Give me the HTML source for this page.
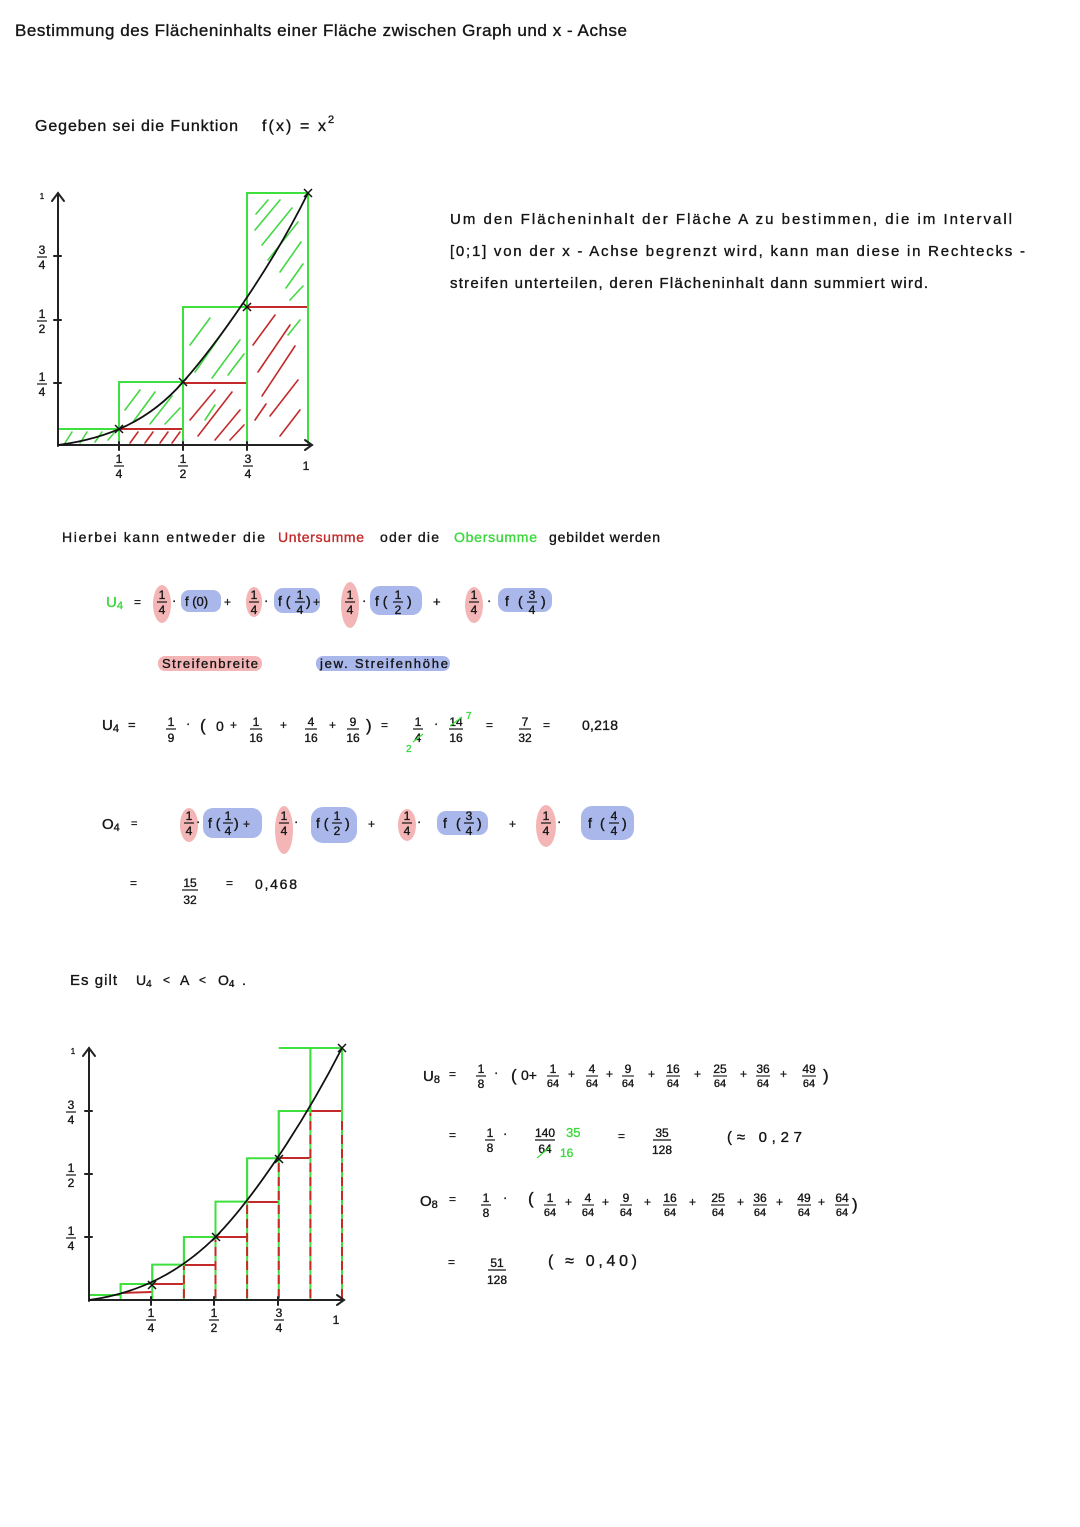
<!DOCTYPE html>
<html>
<head>
<meta charset="utf-8">
<style>
  html,body{margin:0;padding:0;background:#fff;}
  svg{display:block;}
  text{font-family:"Liberation Sans",sans-serif;fill:#151515;stroke:#151515;stroke-width:0.35;}
  .n{font-size:12px;text-anchor:middle;}
  .s{font-size:11px;text-anchor:middle;}
  .g{fill:#3ad83a;stroke:#3ad83a;}
  .r{fill:#c42a2a;stroke:#c42a2a;}
</style>
</head>
<body>
<svg width="1080" height="1527" viewBox="0 0 1080 1527" xmlns="http://www.w3.org/2000/svg">
<defs>
  <g id="fr14"><text class="n" y="-3">1</text><line x1="-5" x2="5" y1="0" y2="0" stroke="#151515" stroke-width="1.2"/><text class="n" y="12">4</text></g>
  <g id="fr12"><text class="n" y="-3">1</text><line x1="-5" x2="5" y1="0" y2="0" stroke="#151515" stroke-width="1.2"/><text class="n" y="12">2</text></g>
  <g id="fr34"><text class="n" y="-3">3</text><line x1="-5" x2="5" y1="0" y2="0" stroke="#151515" stroke-width="1.2"/><text class="n" y="12">4</text></g>
  <g id="fr44"><text class="n" y="-3">4</text><line x1="-5" x2="5" y1="0" y2="0" stroke="#151515" stroke-width="1.2"/><text class="n" y="12">4</text></g>
  <g id="fr18"><text class="n" y="-3">1</text><line x1="-5" x2="5" y1="0" y2="0" stroke="#151515" stroke-width="1.2"/><text class="n" y="12">8</text></g>
</defs>

<!-- Title -->
<text x="15" y="36" font-size="17" textLength="612" lengthAdjust="spacing">Bestimmung des Flächeninhalts einer Fläche zwischen Graph und x - Achse</text>

<!-- Gegeben -->
<text x="35" y="131" font-size="16" textLength="203" lengthAdjust="spacing">Gegeben sei die Funktion</text>
<text x="262" y="131" font-size="16" textLength="64" lengthAdjust="spacing">f(x) = x</text>
<text x="328" y="123" font-size="11">2</text>

<!-- Paragraph -->
<text x="450" y="224" font-size="15" textLength="562" lengthAdjust="spacing">Um den Flächeninhalt der Fläche A zu bestimmen, die im Intervall</text>
<text x="450" y="256" font-size="15" textLength="575" lengthAdjust="spacing">[0;1] von der x - Achse begrenzt wird, kann man diese in Rechtecks -</text>
<text x="450" y="288" font-size="15" textLength="478" lengthAdjust="spacing">streifen unterteilen, deren Flächeninhalt dann summiert wird.</text>

<!-- ============ GRAPH 1 ============ -->
<g stroke="#45d845" stroke-width="1.6" stroke-linecap="round">
  <line x1="255" y1="230" x2="280" y2="200"/><line x1="262" y1="245" x2="292" y2="208"/>
  <line x1="268" y1="260" x2="298" y2="222"/><line x1="280" y1="272" x2="301" y2="242"/>
  <line x1="286" y1="288" x2="303" y2="264"/><line x1="256" y1="214" x2="268" y2="200"/>
  <line x1="290" y1="300" x2="303" y2="286"/><line x1="288" y1="335" x2="300" y2="320"/>
  <line x1="190" y1="345" x2="210" y2="318"/><line x1="195" y1="372" x2="230" y2="322"/>
  <line x1="212" y1="378" x2="240" y2="340"/><line x1="228" y1="375" x2="244" y2="354"/>
  <line x1="125" y1="410" x2="140" y2="390"/><line x1="133" y1="422" x2="155" y2="392"/>
  <line x1="150" y1="424" x2="172" y2="396"/><line x1="165" y1="424" x2="180" y2="408"/>
  <line x1="65" y1="443" x2="72" y2="432"/><line x1="80" y1="443" x2="87" y2="432"/>
  <line x1="95" y1="442" x2="102" y2="432"/><line x1="108" y1="440" x2="114" y2="433"/>
  <line x1="205" y1="420" x2="215" y2="405"/>
</g>
<g stroke="#c42a2a" stroke-width="1.6" stroke-linecap="round">
  <line x1="253" y1="345" x2="275" y2="315"/><line x1="258" y1="372" x2="290" y2="325"/>
  <line x1="262" y1="396" x2="295" y2="346"/><line x1="270" y1="416" x2="298" y2="380"/>
  <line x1="280" y1="436" x2="300" y2="410"/><line x1="255" y1="420" x2="266" y2="404"/>
  <line x1="190" y1="420" x2="215" y2="390"/><line x1="198" y1="436" x2="232" y2="392"/>
  <line x1="215" y1="440" x2="240" y2="410"/><line x1="230" y1="440" x2="244" y2="425"/>
  <line x1="130" y1="443" x2="138" y2="432"/><line x1="145" y1="443" x2="153" y2="432"/>
  <line x1="160" y1="443" x2="168" y2="432"/><line x1="172" y1="443" x2="180" y2="432"/>
</g>
<g stroke="#c42a2a" stroke-width="2" fill="none">
  <line x1="58" y1="445" x2="119" y2="445"/>
  <line x1="119" y1="429" x2="183" y2="429"/>
  <line x1="183" y1="383" x2="247" y2="383"/>
  <line x1="247" y1="307" x2="308" y2="307"/>
</g>
<g stroke="#3ee03e" stroke-width="2" fill="none">
  <rect x="58" y="429" width="61" height="16"/>
  <rect x="119" y="382" width="64" height="63"/>
  <rect x="183" y="307" width="64" height="138"/>
  <rect x="247" y="193" width="61" height="252"/>
</g>
<g stroke="#222" stroke-width="2" fill="none" stroke-linecap="round">
  <line x1="58" y1="446" x2="58" y2="193"/>
  <polyline points="52,201 58,193 64,201"/>
  <line x1="58" y1="445" x2="312" y2="445"/>
  <polyline points="305,440 312,445 305,450"/>
  <line x1="54" y1="256" x2="61" y2="256"/><line x1="54" y1="320" x2="61" y2="320"/><line x1="54" y1="383" x2="61" y2="383"/>
  <line x1="119" y1="442" x2="119" y2="450"/><line x1="183" y1="442" x2="183" y2="450"/><line x1="247" y1="442" x2="247" y2="450"/>
</g>
<path d="M58,445 C110,438 150,420 183,382 C215,346 270,270 308,193" stroke="#111" stroke-width="1.8" fill="none"/>
<g stroke="#111" stroke-width="1.5">
  <line x1="115" y1="425" x2="123" y2="433"/><line x1="115" y1="433" x2="123" y2="425"/>
  <line x1="179" y1="378" x2="187" y2="386"/><line x1="179" y1="386" x2="187" y2="378"/>
  <line x1="243" y1="303" x2="251" y2="311"/><line x1="243" y1="311" x2="251" y2="303"/>
  <line x1="304" y1="189" x2="312" y2="197"/><line x1="304" y1="197" x2="312" y2="189"/>
</g>
<text x="42" y="199" font-size="8" text-anchor="middle">1</text>
<use href="#fr34" x="42" y="257"/>
<use href="#fr12" x="42" y="321"/>
<use href="#fr14" x="42" y="384"/>
<use href="#fr14" x="119" y="466"/>
<use href="#fr12" x="183" y="466"/>
<use href="#fr34" x="248" y="466"/>
<text x="306" y="470" font-size="12" text-anchor="middle">1</text>

<!-- Hierbei -->
<text x="62" y="542" font-size="14" textLength="203" lengthAdjust="spacing">Hierbei kann entweder die</text>
<text x="278" y="542" font-size="14" textLength="86" lengthAdjust="spacing" class="r">Untersumme</text>
<text x="380" y="542" font-size="14" textLength="59" lengthAdjust="spacing">oder die</text>
<text x="454" y="542" font-size="14" textLength="83" lengthAdjust="spacing" class="g">Obersumme</text>
<text x="549" y="542" font-size="14" textLength="111" lengthAdjust="spacing">gebildet werden</text>

<!-- ============ U4 line with highlights ============ -->
<g fill="#f3b5b5">
  <ellipse cx="162" cy="604" rx="9" ry="19"/>
  <ellipse cx="254" cy="602" rx="8" ry="15"/>
  <ellipse cx="350" cy="605" rx="9" ry="23"/>
  <ellipse cx="474" cy="605" rx="9" ry="18"/>
</g>
<g fill="#a9b7ea">
  <rect x="181" y="590" width="40" height="22" rx="8"/>
  <rect x="274" y="588" width="46" height="25" rx="9"/>
  <rect x="370" y="586" width="52" height="29" rx="10"/>
  <rect x="498" y="588" width="54" height="24" rx="9"/>
</g>
<text x="106" y="607" font-size="15" class="g">U<tspan font-size="11" dy="2">4</tspan></text>
<text x="134" y="606" font-size="12">=</text>
<use href="#fr14" x="162" y="602"/>
<text x="172" y="605" font-size="13">·</text>
<text x="185" y="606" font-size="13">f (0)</text>
<text x="224" y="606" font-size="12">+</text>
<use href="#fr14" x="254" y="602"/>
<text x="264" y="605" font-size="13">·</text>
<text x="278" y="606" font-size="14">f (</text><use href="#fr14" x="300" y="602"/><text x="306" y="606" font-size="14">)</text>
<text x="313" y="606" font-size="12">+</text>
<use href="#fr14" x="350" y="602"/>
<text x="362" y="605" font-size="13">·</text>
<text x="375" y="606" font-size="14">f (</text><use href="#fr12" x="398" y="602"/><text x="407" y="606" font-size="14">)</text>
<text x="433" y="606" font-size="13">+</text>
<use href="#fr14" x="474" y="602"/>
<text x="487" y="605" font-size="13">·</text>
<text x="505" y="606" font-size="14">f</text><text x="518" y="606" font-size="14">(</text><use href="#fr34" x="532" y="602"/><text x="541" y="606" font-size="14">)</text>

<!-- Streifenbreite / jew. Streifenhöhe -->
<rect x="158" y="656" width="104" height="15" rx="7" fill="#f3b5b5"/>
<rect x="316" y="656" width="134" height="15" rx="7" fill="#a9b7ea"/>
<text x="162" y="668" font-size="13" textLength="96" lengthAdjust="spacing">Streifenbreite</text>
<text x="320" y="668" font-size="13" textLength="128" lengthAdjust="spacing">jew. Streifenhöhe</text>

<!-- U4 computation -->
<text x="102" y="730" font-size="15">U<tspan font-size="11" dy="2">4</tspan></text>
<text x="128" y="729" font-size="13">=</text>
<g transform="translate(171,729)"><text class="n" y="-3">1</text><line x1="-5" x2="5" stroke="#151515" stroke-width="1.2"/><text class="n" y="13">9</text></g>
<text x="186" y="728" font-size="13">·</text>
<text x="200" y="731" font-size="17">(</text>
<text x="216" y="731" font-size="14">0</text>
<text x="230" y="729" font-size="12">+</text>
<g transform="translate(256,729)"><text class="n" y="-3">1</text><line x1="-6" x2="6" stroke="#151515" stroke-width="1.2"/><text class="n" y="13">16</text></g>
<text x="280" y="729" font-size="12">+</text>
<g transform="translate(311,729)"><text class="n" y="-3">4</text><line x1="-6" x2="6" stroke="#151515" stroke-width="1.2"/><text class="n" y="13">16</text></g>
<text x="329" y="729" font-size="12">+</text>
<g transform="translate(353,729)"><text class="n" y="-3">9</text><line x1="-6" x2="6" stroke="#151515" stroke-width="1.2"/><text class="n" y="13">16</text></g>
<text x="366" y="731" font-size="17">)</text>
<text x="381" y="729" font-size="12">=</text>
<g transform="translate(418,729)"><text class="n" y="-3">1</text><line x1="-5" x2="5" stroke="#151515" stroke-width="1.2"/><text class="n" y="13">4</text></g>
<line x1="413" y1="742" x2="423" y2="734" stroke="#3ee03e" stroke-width="1.3"/>
<text x="406" y="752" font-size="10" class="g">2</text>
<text x="434" y="728" font-size="13">·</text>
<g transform="translate(456,729)"><text class="n" y="-3">14</text><line x1="-7" x2="7" stroke="#151515" stroke-width="1.2"/><text class="n" y="13">16</text></g>
<line x1="450" y1="726" x2="462" y2="717" stroke="#3ee03e" stroke-width="1.3"/>
<text x="466" y="719" font-size="10" class="g">7</text>
<text x="486" y="729" font-size="12">=</text>
<g transform="translate(525,729)"><text class="n" y="-3">7</text><line x1="-6" x2="6" stroke="#151515" stroke-width="1.2"/><text class="n" y="13">32</text></g>
<text x="543" y="729" font-size="12">=</text>
<text x="582" y="730" font-size="14" textLength="36" lengthAdjust="spacing">0,218</text>

<!-- ============ O4 line ============ -->
<g fill="#f3b5b5">
  <ellipse cx="189" cy="825" rx="9" ry="17"/>
  <ellipse cx="284" cy="830" rx="9" ry="24"/>
  <ellipse cx="407" cy="825" rx="9" ry="16"/>
  <ellipse cx="546" cy="826" rx="10" ry="21"/>
</g>
<g fill="#a9b7ea">
  <rect x="203" y="808" width="59" height="30" rx="10"/>
  <rect x="311" y="807" width="46" height="36" rx="12"/>
  <rect x="437" y="811" width="51" height="24" rx="9"/>
  <rect x="581" y="806" width="53" height="34" rx="11"/>
</g>
<text x="102" y="829" font-size="15">O<tspan font-size="11" dy="2">4</tspan></text>
<text x="131" y="827" font-size="11">=</text>
<use href="#fr14" x="189" y="823"/>
<text x="196" y="826" font-size="13">·</text>
<text x="208" y="828" font-size="14">f (</text><use href="#fr14" x="228" y="823"/><text x="234" y="828" font-size="14">)</text>
<text x="243" y="828" font-size="12">+</text>
<use href="#fr14" x="284" y="823"/>
<text x="294" y="826" font-size="13">·</text>
<text x="316" y="828" font-size="14">f (</text><use href="#fr12" x="337" y="823"/><text x="345" y="828" font-size="14">)</text>
<text x="368" y="828" font-size="12">+</text>
<use href="#fr14" x="407" y="823"/>
<text x="417" y="826" font-size="13">·</text>
<text x="443" y="828" font-size="14">f</text><text x="456" y="828" font-size="14">(</text><use href="#fr34" x="469" y="823"/><text x="477" y="828" font-size="14">)</text>
<text x="509" y="828" font-size="12">+</text>
<use href="#fr14" x="546" y="823"/>
<text x="557" y="826" font-size="13">·</text>
<text x="588" y="828" font-size="14">f</text><text x="600" y="828" font-size="14">(</text><use href="#fr44" x="614" y="823"/><text x="622" y="828" font-size="14">)</text>

<text x="130" y="887" font-size="12">=</text>
<g transform="translate(190,890)"><text class="n" y="-3">15</text><line x1="-8" x2="8" stroke="#151515" stroke-width="1.2"/><text class="n" y="14">32</text></g>
<text x="226" y="887" font-size="12">=</text>
<text x="255" y="889" font-size="14" textLength="42" lengthAdjust="spacing">0,468</text>

<!-- Es gilt -->
<text x="70" y="985" font-size="15" textLength="47" lengthAdjust="spacing">Es gilt</text>
<text x="136" y="985" font-size="14">U<tspan font-size="10" dy="2">4</tspan></text>
<text x="163" y="984" font-size="12">&lt;</text>
<text x="180" y="985" font-size="14">A</text>
<text x="199" y="984" font-size="12">&lt;</text>
<text x="218" y="985" font-size="14">O<tspan font-size="10" dy="2">4</tspan></text>
<text x="242" y="985" font-size="14">.</text>

<!-- ============ GRAPH 2 ============ -->
<g stroke="#c42a2a" stroke-width="2" fill="none">
  <line x1="89" y1="1300" x2="215" y2="1300"/>
  <line x1="120.6" y1="1293" x2="152" y2="1292"/>
  <line x1="152" y1="1284" x2="184" y2="1284"/>
  <line x1="184" y1="1265" x2="215.5" y2="1265"/>
  <line x1="215.5" y1="1237" x2="247" y2="1237"/>
  <line x1="247" y1="1202" x2="279" y2="1202"/>
  <line x1="279" y1="1158" x2="310" y2="1158"/>
  <line x1="310" y1="1111" x2="342" y2="1111"/>
</g>
<g stroke="#3ee03e" stroke-width="2" fill="none">
  <path d="M89,1295 H120.6 V1284 H152.25 V1264.6 H183.9 V1237 H215.5 V1201.6 H247.1 V1158.25 H278.75 V1111 H310.4 V1048 H342 V1300"/>
  <line x1="278.75" y1="1048" x2="310.4" y2="1048"/>
  <line x1="120.6" y1="1300" x2="120.6" y2="1284"/>
  <line x1="152.25" y1="1300" x2="152.25" y2="1264.6"/>
  <line x1="183.9" y1="1300" x2="183.9" y2="1237"/>
  <line x1="215.5" y1="1300" x2="215.5" y2="1201.6"/>
  <line x1="247.1" y1="1300" x2="247.1" y2="1158"/>
  <line x1="278.75" y1="1300" x2="278.75" y2="1111"/>
  <line x1="310.4" y1="1300" x2="310.4" y2="1048"/>
</g>
<g stroke="#c42a2a" stroke-width="2" fill="none" stroke-dasharray="9,5">
  <line x1="183.9" y1="1298" x2="183.9" y2="1266"/>
  <line x1="215.5" y1="1298" x2="215.5" y2="1240"/>
  <line x1="247.1" y1="1298" x2="247.1" y2="1205"/>
  <line x1="278.75" y1="1298" x2="278.75" y2="1160"/>
  <line x1="310.4" y1="1298" x2="310.4" y2="1113"/>
  <line x1="342" y1="1298" x2="342" y2="1120"/>
</g>
<g stroke="#222" stroke-width="2" fill="none" stroke-linecap="round">
  <line x1="89" y1="1301" x2="89" y2="1048"/>
  <polyline points="83,1056 89,1048 95,1056"/>
  <line x1="89" y1="1300" x2="344" y2="1300"/>
  <polyline points="337,1295 344,1300 337,1305"/>
  <line x1="85" y1="1111" x2="92" y2="1111"/><line x1="85" y1="1174" x2="92" y2="1174"/><line x1="85" y1="1237" x2="92" y2="1237"/>
  <line x1="151" y1="1297" x2="151" y2="1305"/><line x1="214" y1="1297" x2="214" y2="1305"/><line x1="278" y1="1297" x2="278" y2="1305"/>
</g>
<path d="M89,1300 C140,1293 180,1272 215.5,1237 C250,1202 300,1130 342,1048" stroke="#111" stroke-width="1.8" fill="none"/>
<g stroke="#111" stroke-width="1.5">
  <line x1="148" y1="1281" x2="156" y2="1289"/><line x1="148" y1="1289" x2="156" y2="1281"/>
  <line x1="212" y1="1233" x2="220" y2="1241"/><line x1="212" y1="1241" x2="220" y2="1233"/>
  <line x1="275" y1="1155" x2="283" y2="1163"/><line x1="275" y1="1163" x2="283" y2="1155"/>
  <line x1="338" y1="1044" x2="346" y2="1052"/><line x1="338" y1="1052" x2="346" y2="1044"/>
</g>
<text x="73" y="1054" font-size="8" text-anchor="middle">1</text>
<use href="#fr34" x="71" y="1112"/>
<use href="#fr12" x="71" y="1175"/>
<use href="#fr14" x="71" y="1238"/>
<use href="#fr14" x="151" y="1320"/>
<use href="#fr12" x="214" y="1320"/>
<use href="#fr34" x="279" y="1320"/>
<text x="336" y="1324" font-size="12" text-anchor="middle">1</text>

<!-- ============ U8 / O8 formulas ============ -->
<text x="423" y="1081" font-size="15">U<tspan font-size="11" dy="2">8</tspan></text>
<text x="449" y="1078" font-size="12">=</text>
<use href="#fr18" x="481" y="1076"/>
<text x="494" y="1077" font-size="13">·</text>
<text x="511" y="1081" font-size="17">(</text>
<text x="521" y="1080" font-size="14">0+</text>
<g transform="translate(553,1076)"><text class="n" y="-3">1</text><line x1="-6" x2="6" stroke="#151515" stroke-width="1.1"/><text class="s" y="11">64</text></g>
<text x="568" y="1078" font-size="12">+</text>
<g transform="translate(592,1076)"><text class="n" y="-3">4</text><line x1="-6" x2="6" stroke="#151515" stroke-width="1.1"/><text class="s" y="11">64</text></g>
<text x="606" y="1078" font-size="12">+</text>
<g transform="translate(628,1076)"><text class="n" y="-3">9</text><line x1="-6" x2="6" stroke="#151515" stroke-width="1.1"/><text class="s" y="11">64</text></g>
<text x="648" y="1078" font-size="12">+</text>
<g transform="translate(673,1076)"><text class="n" y="-3">16</text><line x1="-7" x2="7" stroke="#151515" stroke-width="1.1"/><text class="s" y="11">64</text></g>
<text x="694" y="1078" font-size="12">+</text>
<g transform="translate(720,1076)"><text class="n" y="-3">25</text><line x1="-7" x2="7" stroke="#151515" stroke-width="1.1"/><text class="s" y="11">64</text></g>
<text x="740" y="1078" font-size="12">+</text>
<g transform="translate(763,1076)"><text class="n" y="-3">36</text><line x1="-7" x2="7" stroke="#151515" stroke-width="1.1"/><text class="s" y="11">64</text></g>
<text x="780" y="1078" font-size="12">+</text>
<g transform="translate(809,1076)"><text class="n" y="-3">49</text><line x1="-7" x2="7" stroke="#151515" stroke-width="1.1"/><text class="s" y="11">64</text></g>
<text x="823" y="1081" font-size="17">)</text>

<text x="449" y="1139" font-size="12">=</text>
<use href="#fr18" x="490" y="1140"/>
<text x="503" y="1138" font-size="13">·</text>
<g transform="translate(545,1140)"><text class="n" y="-3">140</text><line x1="-10" x2="10" stroke="#151515" stroke-width="1.2"/><text class="n" y="13">64</text></g>
<line x1="537" y1="1158" x2="550" y2="1147" stroke="#3ee03e" stroke-width="1.3"/>
<text x="566" y="1137" font-size="13" class="g">35</text>
<text x="560" y="1157" font-size="12" class="g">16</text>
<text x="618" y="1140" font-size="12">=</text>
<g transform="translate(662,1140)"><text class="n" y="-3">35</text><line x1="-9" x2="9" stroke="#151515" stroke-width="1.2"/><text class="n" y="14">128</text></g>
<text x="727" y="1142" font-size="15" textLength="75" lengthAdjust="spacing">(≈ 0,27</text>

<text x="420" y="1206" font-size="15">O<tspan font-size="11" dy="2">8</tspan></text>
<text x="449" y="1203" font-size="12">=</text>
<use href="#fr18" x="486" y="1205"/>
<text x="503" y="1202" font-size="13">·</text>
<text x="528" y="1204" font-size="17">(</text>
<g transform="translate(550,1205)"><text class="n" y="-3">1</text><line x1="-6" x2="6" stroke="#151515" stroke-width="1.1"/><text class="s" y="11">64</text></g>
<text x="565" y="1206" font-size="12">+</text>
<g transform="translate(588,1205)"><text class="n" y="-3">4</text><line x1="-6" x2="6" stroke="#151515" stroke-width="1.1"/><text class="s" y="11">64</text></g>
<text x="602" y="1206" font-size="12">+</text>
<g transform="translate(626,1205)"><text class="n" y="-3">9</text><line x1="-6" x2="6" stroke="#151515" stroke-width="1.1"/><text class="s" y="11">64</text></g>
<text x="644" y="1206" font-size="12">+</text>
<g transform="translate(670,1205)"><text class="n" y="-3">16</text><line x1="-7" x2="7" stroke="#151515" stroke-width="1.1"/><text class="s" y="11">64</text></g>
<text x="689" y="1206" font-size="12">+</text>
<g transform="translate(718,1205)"><text class="n" y="-3">25</text><line x1="-7" x2="7" stroke="#151515" stroke-width="1.1"/><text class="s" y="11">64</text></g>
<text x="737" y="1206" font-size="12">+</text>
<g transform="translate(760,1205)"><text class="n" y="-3">36</text><line x1="-7" x2="7" stroke="#151515" stroke-width="1.1"/><text class="s" y="11">64</text></g>
<text x="776" y="1206" font-size="12">+</text>
<g transform="translate(804,1205)"><text class="n" y="-3">49</text><line x1="-7" x2="7" stroke="#151515" stroke-width="1.1"/><text class="s" y="11">64</text></g>
<text x="818" y="1206" font-size="12">+</text>
<g transform="translate(842,1205)"><text class="n" y="-3">64</text><line x1="-7" x2="7" stroke="#151515" stroke-width="1.1"/><text class="s" y="11">64</text></g>
<text x="852" y="1210" font-size="17">)</text>

<text x="448" y="1266" font-size="12">=</text>
<g transform="translate(497,1270)"><text class="n" y="-3" font-size="14">51</text><line x1="-9" x2="9" stroke="#151515" stroke-width="1.2"/><text class="n" y="14">128</text></g>
<text x="548" y="1266" font-size="16" textLength="89" lengthAdjust="spacing">( ≈ 0,40)</text>

</svg>
</body>
</html>
